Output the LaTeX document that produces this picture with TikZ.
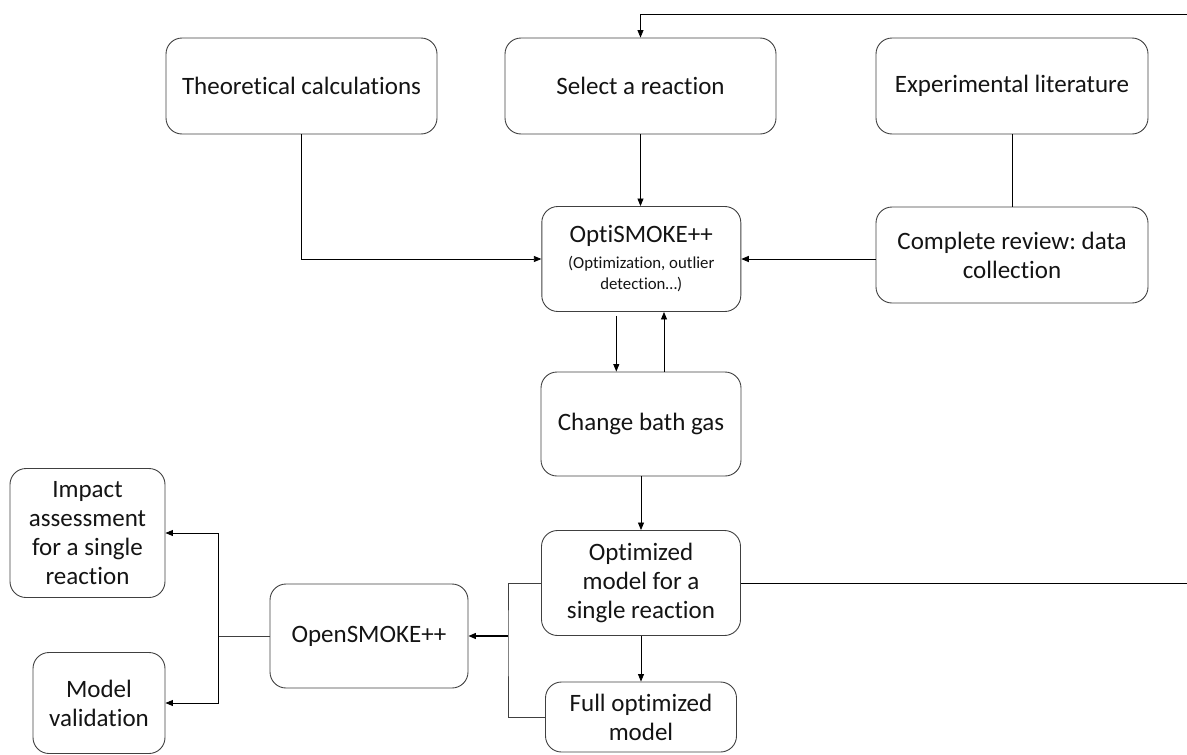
\documentclass[tikz,border=0pt]{standalone}
\usepackage{fontspec}
\setmainfont[Ligatures={NoCommon}]{Carlito}
\usetikzlibrary{arrows.meta}
\definecolor{boxc}{RGB}{64,64,64}
\definecolor{txtc}{RGB}{20,20,20}
\newcommand{\subtxt}{\fontsize{16.8}{20}\selectfont}
\frenchspacing
\begin{document}
\begin{tikzpicture}[x=1pt,y=-1pt,
  box/.style={draw=boxc, line width=0.9pt, rounded corners=16pt, align=center,
    inner sep=0pt, text=txtc, font=\fontsize{25}{29}\selectfont},
  conn/.style={line width=0.8pt, draw=black},
  arr/.style={conn, -{Triangle[length=7.5pt,width=6pt]}}]
\useasboundingbox (0,0) rectangle (1187,755);
% nodes
\node[box, minimum width=271pt, minimum height=96pt] (theo) at (301.5,86) {Theoretical calculations};
\node[box, minimum width=271pt, minimum height=96pt] (sel) at (640.5,86) {Select a reaction};
\node[box, minimum width=272pt, minimum height=96pt] (exp) at (1012,86) {Experimental literature};
\node[box, minimum width=199pt, minimum height=105pt] (opti) at (641.3,259)
  {OptiSMOKE++\\[-3pt]{\subtxt (Optimization, outlier}\\[-8pt]{\subtxt detection…)}};
\node[box, minimum width=272pt, minimum height=96pt] (comp) at (1012,255) {Complete review: data\\ collection};
\node[box, minimum width=200pt, minimum height=104pt] (bath) at (641,424) {Change bath gas};
\node[box, minimum width=199pt, minimum height=105pt] (optm) at (641,583) {Optimized\\ model for a\\ single reaction};
\node[box, minimum width=191pt, minimum height=70pt] (full) at (641,717) {Full optimized\\ model};
\node[box, minimum width=198pt, minimum height=104pt] (opens) at (369,636) {OpenSMOKE++};
\node[box, minimum width=155pt, minimum height=129pt] (impact) at (87.5,533) {Impact\\ assessment\\ for a single\\ reaction};
\node[box, minimum width=132pt, minimum height=101pt] (modval) at (99,703) {Model\\ validation};
% coordinates
\coordinate (topR) at (1187,14);
\coordinate (optR) at (1187,583);
\coordinate (bx) at (508,636);
\coordinate (lx) at (218,636);
% connectors
\draw[arr] (topR) -| (sel.north);
\draw[arr] (sel.south) -- (sel.south |- opti.north);
\draw[arr] (theo.south) |- (opti.west);
\draw[arr] (comp.west |- opti.east) -- (opti.east);
\draw[conn] (exp.south) -- (comp.north);
\draw[arr, shorten <=4pt] ([xshift=-25pt]opti.south) -- ([xshift=-25pt]opti.south |- bath.north);
\draw[arr] ([xshift=23pt]bath.north) -- ([xshift=23pt]bath.north |- opti.south);
\draw[arr] (bath.south) -- (optm.north);
\draw[arr] (optm.south) -- (full.north);
\draw[conn] (optm.east) -- (optR);
\draw[conn, draw=boxc] (optm.west) -| (bx) |- (full.west);
\draw[arr, line width=1.2pt] (bx) -- (opens.east);
\draw[conn, draw=boxc] (opens.west) -- (lx);
\draw[arr] (lx) |- (impact.east);
\draw[arr] (lx) |- (modval.east);
\end{tikzpicture}
\end{document}
